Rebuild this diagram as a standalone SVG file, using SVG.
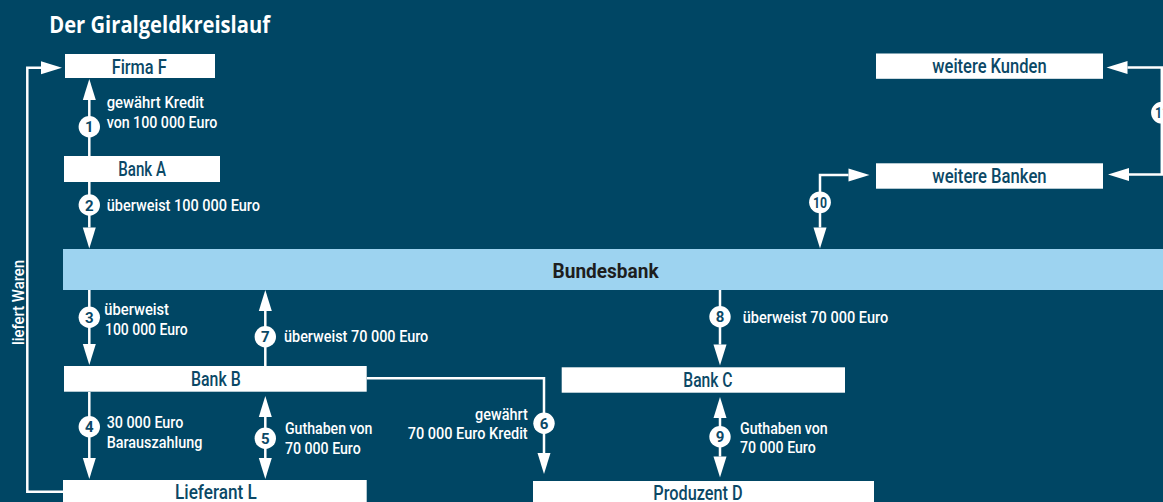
<svg xmlns="http://www.w3.org/2000/svg" width="1163" height="502" viewBox="0 0 1163 502">
  <style>
    .bg { fill: #004664; }
    .box { fill: #ffffff; }
    .bar { fill: #9dd3f0; }
    .bt { font-family: Roboto, "Liberation Sans", sans-serif; font-size: 19.5px; font-weight: 500; fill: #0b4866; }
    .bb { font-family: Roboto, "Liberation Sans", sans-serif; font-size: 19.5px; font-weight: 700; fill: #1e1e1e; }
    .lbl { font-family: Roboto, "Liberation Sans", sans-serif; font-size: 16px; font-weight: 500; fill: #ffffff; }
    .title { font-family: "Open Sans", "Liberation Sans", sans-serif; font-size: 23px; font-weight: 700; fill: #ffffff; }
    .num { fill: #ffffff; }
    .nt { font-family: Roboto, "Liberation Sans", sans-serif; font-size: 15px; font-weight: 700; fill: #0b4866; text-anchor: middle; }
    .con { fill: none; stroke: #ffffff; stroke-width: 2.5; }
  </style>
  <defs>
    <marker id="ah" markerUnits="userSpaceOnUse" markerWidth="22" markerHeight="14" refX="0" refY="6.5" orient="auto-start-reverse" overflow="visible">
      <path d="M0,0 L21,6.5 L0,13 Z" fill="#ffffff"/>
    </marker>
  </defs>

  <rect class="bg" x="0" y="0" width="1163" height="502"/>

  <text class="title" x="49.3" y="33.3" textLength="220.7" lengthAdjust="spacingAndGlyphs">Der Giralgeldkreislauf</text>

  <g id="connectors">
    <path class="con" d="M89.3,156 V100" marker-end="url(#ah)"/>
    <path class="con" d="M89.3,182 V227.5" marker-end="url(#ah)"/>
    <path class="con" d="M89.3,290 V344" marker-end="url(#ah)"/>
    <path class="con" d="M265.3,366 V311" marker-end="url(#ah)"/>
    <path class="con" d="M89.3,392 V458" marker-end="url(#ah)"/>
    <path class="con" d="M265.3,417 V458" marker-start="url(#ah)" marker-end="url(#ah)"/>
    <path class="con" d="M720,290 V344.5" marker-end="url(#ah)"/>
    <path class="con" d="M720,418 V456.5" marker-start="url(#ah)" marker-end="url(#ah)"/>
    <path class="con" d="M366.7,378.3 H544 V453" marker-end="url(#ah)"/>
    <path class="con" d="M820,227.5 V175 H848.5" marker-start="url(#ah)" marker-end="url(#ah)"/>
    <path class="con" d="M1127.5,67.5 H1161.8 V174.5 H1129" marker-start="url(#ah)" marker-end="url(#ah)"/>
    <path class="con" d="M63,491.7 H27.3 V67.7 H41" marker-end="url(#ah)"/>
  </g>

  <g id="labels">
    <text class="lbl" x="106.7" y="107.7" textLength="97.3" lengthAdjust="spacingAndGlyphs">gewährt Kredit</text>
    <text class="lbl" x="106.7" y="127.7" textLength="110.6" lengthAdjust="spacingAndGlyphs">von 100 000 Euro</text>
    <text class="lbl" x="106.7" y="211" textLength="153.3" lengthAdjust="spacingAndGlyphs">überweist 100 000 Euro</text>
    <text class="lbl" x="104.3" y="315" textLength="64.7" lengthAdjust="spacingAndGlyphs">überweist</text>
    <text class="lbl" x="105" y="335" textLength="82.7" lengthAdjust="spacingAndGlyphs">100 000 Euro</text>
    <text class="lbl" x="284" y="342.3" textLength="144.3" lengthAdjust="spacingAndGlyphs">überweist 70 000 Euro</text>
    <text class="lbl" x="106.7" y="427.7" textLength="76.6" lengthAdjust="spacingAndGlyphs">30 000 Euro</text>
    <text class="lbl" x="106.7" y="447.7" textLength="95.6" lengthAdjust="spacingAndGlyphs">Barauszahlung</text>
    <text class="lbl" x="285" y="434.3" textLength="87.3" lengthAdjust="spacingAndGlyphs">Guthaben von</text>
    <text class="lbl" x="285" y="454.3" textLength="75.7" lengthAdjust="spacingAndGlyphs">70 000 Euro</text>
    <text class="lbl" x="475" y="420" textLength="52.7" lengthAdjust="spacingAndGlyphs">gewährt</text>
    <text class="lbl" x="407.7" y="439.3" textLength="120" lengthAdjust="spacingAndGlyphs">70 000 Euro Kredit</text>
    <text class="lbl" x="742.7" y="323.3" textLength="145.6" lengthAdjust="spacingAndGlyphs">überweist 70 000 Euro</text>
    <text class="lbl" x="740" y="434" textLength="87.7" lengthAdjust="spacingAndGlyphs">Guthaben von</text>
    <text class="lbl" x="740" y="453.3" textLength="75.7" lengthAdjust="spacingAndGlyphs">70 000 Euro</text>
    <text class="lbl" transform="translate(24,345) rotate(-90)" x="0" y="0" textLength="85" lengthAdjust="spacingAndGlyphs">liefert Waren</text>
  </g>

  <g id="steps">
    <circle class="num" cx="89.3" cy="126.7" r="10.7"/><text class="nt" x="89.3" y="132.2">1</text>
    <circle class="num" cx="89.3" cy="205" r="10.7"/><text class="nt" x="89.3" y="210.5">2</text>
    <circle class="num" cx="89.3" cy="317.3" r="10.7"/><text class="nt" x="89.3" y="322.8">3</text>
    <circle class="num" cx="89.3" cy="426.7" r="10.7"/><text class="nt" x="89.3" y="432.2">4</text>
    <circle class="num" cx="265.3" cy="438.3" r="10.7"/><text class="nt" x="265.3" y="443.8">5</text>
    <circle class="num" cx="544" cy="423.3" r="10.7"/><text class="nt" x="544" y="428.8">6</text>
    <circle class="num" cx="265.3" cy="336.7" r="10.7"/><text class="nt" x="265.3" y="342.2">7</text>
    <circle class="num" cx="720" cy="316.7" r="10.7"/><text class="nt" x="720" y="322.2">8</text>
    <circle class="num" cx="720" cy="436.7" r="10.7"/><text class="nt" x="720" y="442.2">9</text>
    <circle class="num" cx="820" cy="202.3" r="10.9"/><text class="nt" x="820" y="207.8" textLength="14" lengthAdjust="spacingAndGlyphs">10</text>
    <circle class="num" cx="1162" cy="112.7" r="10.9"/><text class="nt" x="1162" y="118.2" textLength="14" lengthAdjust="spacingAndGlyphs">11</text>
  </g>

  <g id="firma-f">
    <rect class="box" x="65" y="54" width="150" height="24"/>
    <text class="bt" x="111.7" y="74" textLength="55" lengthAdjust="spacingAndGlyphs">Firma F</text>
  </g>
  <g id="bank-a">
    <rect class="box" x="64" y="156" width="156" height="26"/>
    <text class="bt" x="118.3" y="175.7" textLength="47.7" lengthAdjust="spacingAndGlyphs">Bank A</text>
  </g>
  <g id="weitere-kunden">
    <rect class="box" x="876" y="53.5" width="227" height="25.3"/>
    <text class="bt" x="932.3" y="73.3" textLength="114.3" lengthAdjust="spacingAndGlyphs">weitere Kunden</text>
  </g>
  <g id="weitere-banken">
    <rect class="box" x="876" y="163.3" width="227" height="25.4"/>
    <text class="bt" x="932.3" y="183.3" textLength="114.3" lengthAdjust="spacingAndGlyphs">weitere Banken</text>
  </g>
  <g id="bundesbank">
    <rect class="bar" x="63" y="249" width="1100" height="41"/>
    <text class="bb" x="552.6" y="277.7" textLength="106" lengthAdjust="spacingAndGlyphs">Bundesbank</text>
  </g>
  <g id="bank-b">
    <rect class="box" x="64" y="366" width="302.7" height="25.7"/>
    <text class="bt" x="191" y="386" textLength="49.7" lengthAdjust="spacingAndGlyphs">Bank B</text>
  </g>
  <g id="bank-c">
    <rect class="box" x="561.7" y="367.3" width="283.3" height="25.4"/>
    <text class="bt" x="683.3" y="387.3" textLength="49.3" lengthAdjust="spacingAndGlyphs">Bank C</text>
  </g>
  <g id="lieferant-l">
    <rect class="box" x="63" y="480" width="303.7" height="24"/>
    <text class="bt" x="175" y="499.3" textLength="81.7" lengthAdjust="spacingAndGlyphs">Lieferant L</text>
  </g>
  <g id="produzent-d">
    <rect class="box" x="533" y="481" width="341" height="23"/>
    <text class="bt" x="653.3" y="499.5" textLength="89.4" lengthAdjust="spacingAndGlyphs">Produzent D</text>
  </g>
</svg>
